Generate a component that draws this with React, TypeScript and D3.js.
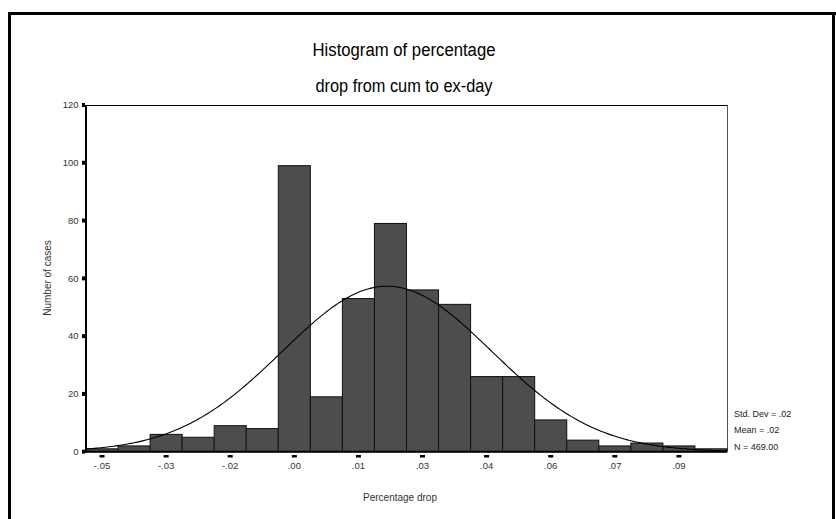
import React from "react";
import * as d3 from "d3";

// ---- data ----
const binMidpoints = [
  -0.0475, -0.04, -0.0325, -0.025, -0.0175, -0.01, -0.0025, 0.005, 0.0125, 0.02,
  0.0275, 0.035, 0.0425, 0.05, 0.0575, 0.065, 0.0725, 0.08, 0.0875, 0.095,
];
const binCounts = [1, 2, 6, 5, 9, 8, 99, 19, 53, 79, 56, 51, 26, 26, 11, 4, 2, 3, 2, 1];
const binWidth = 0.0075;
const xTickLabels = ["-.05", "-.03", "-.02", ".00", ".01", ".03", ".04", ".06", ".07", ".09"];
const xTickValues = [-0.0475, -0.0325, -0.0175, -0.0025, 0.0125, 0.0275, 0.0425, 0.0575, 0.0725, 0.0875];
const yTicks = [0, 20, 40, 60, 80, 100, 120];
const fitMean = 0.0192;
const fitSd = 0.0245;
const nCases = 469;
const statsLines = ["Std. Dev = .02", "Mean = .02", "N = 469.00"];
const titleLines = ["Histogram of percentage", "drop from cum to ex-day"];

const W = 836;
const H = 519;
const left = 86;
const right = 727;
const top = 105;
const bottom = 451.7;
const FONT = "'Liberation Sans', Arial, sans-serif";

export default function App() {
  const xDomain: [number, number] = [
    binMidpoints[0] - binWidth / 2,
    binMidpoints[binMidpoints.length - 1] + binWidth / 2,
  ];
  const x = d3.scaleLinear().domain(xDomain).range([left, right]);
  const y = d3.scaleLinear().domain([0, 120]).range([bottom, top]);

  const pts = d3.range(0, 301).map((i) => xDomain[0] + ((xDomain[1] - xDomain[0]) * i) / 300);
  const pdf = (v: number) =>
    (nCases * binWidth) / (fitSd * Math.sqrt(2 * Math.PI)) *
    Math.exp(-0.5 * ((v - fitMean) / fitSd) ** 2);
  const line = d3
    .line<number>()
    .x((v) => x(v))
    .y((v) => y(pdf(v)))
    .curve(d3.curveLinear);

  return (
    <svg
      width={W}
      height={H}
      style={{ position: "absolute", left: 0, top: 0, background: "#fff" }}
      fontFamily={FONT}
    >
      <rect x={0} y={0} width={W} height={H} fill="#fff" />
      {/* outer frame */}
      <line x1={9.5} y1={13.5} x2={836} y2={13.5} stroke="#000" strokeWidth={3} />
      <line x1={9.5} y1={12} x2={9.5} y2={519} stroke="#000" strokeWidth={3} />
      <line x1={833.5} y1={12} x2={833.5} y2={519} stroke="#000" strokeWidth={3} />

      {/* title */}
      {titleLines.map((t, i) => (
        <text
          key={t}
          x={404}
          y={56 + i * 36}
          textAnchor="middle"
          fontSize={18}
          fill="#000"
          textLength={i === 0 ? 183 : 177}
          lengthAdjust="spacingAndGlyphs"
        >
          {t}
        </text>
      ))}

      {/* plot frame */}
      <line x1={left} y1={top + 0.5} x2={right} y2={top + 0.5} stroke="#000" strokeWidth={1} />
      <line x1={right + 0.5} y1={top} x2={right + 0.5} y2={bottom} stroke="#555" strokeWidth={1} />

      {/* bars */}
      {binMidpoints.map((m, i) => (
        <rect
          key={i}
          x={x(m - binWidth / 2)}
          y={y(binCounts[i])}
          width={x(m + binWidth / 2) - x(m - binWidth / 2)}
          height={bottom - y(binCounts[i])}
          fill="#4d4d4d"
          stroke="#111"
          strokeWidth={1}
        />
      ))}

      {/* normal curve */}
      <path d={line(pts) || ""} fill="none" stroke="#000" strokeWidth={1.1} />

      {/* axes */}
      <line x1={left} y1={top} x2={left} y2={bottom + 1} stroke="#000" strokeWidth={2} />
      <line x1={83} y1={bottom} x2={right} y2={bottom} stroke="#000" strokeWidth={2} />

      {/* y ticks */}
      {yTicks.map((t) => (
        <g key={t}>
          <rect x={82} y={y(t) - 2} width={3} height={4} fill="#000" />
          <text x={78.5} y={y(t) + 3.3} textAnchor="end" fontSize={9.5} fill="#333">
            {t}
          </text>
        </g>
      ))}

      {/* x ticks */}
      {xTickValues.map((v, i) => (
        <g key={v}>
          <rect x={x(v) - 2.5} y={455} width={5} height={2.5} fill="#000" />
          <text x={x(v)} y={469} textAnchor="middle" fontSize={9.5} fill="#333">
            {xTickLabels[i]}
          </text>
        </g>
      ))}

      {/* axis titles */}
      <text
        transform={`translate(51,278) rotate(-90)`}
        textAnchor="middle"
        fontSize={10}
        fill="#333"
      >
        Number of cases
      </text>
      <text x={400} y={501} textAnchor="middle" fontSize={10} fill="#333">
        Percentage drop
      </text>

      {/* stats */}
      {statsLines.map((s, i) => (
        <text key={s} x={734} y={416.5 + i * 16.5} fontSize={9} fill="#222">
          {s}
        </text>
      ))}
    </svg>
  );
}
